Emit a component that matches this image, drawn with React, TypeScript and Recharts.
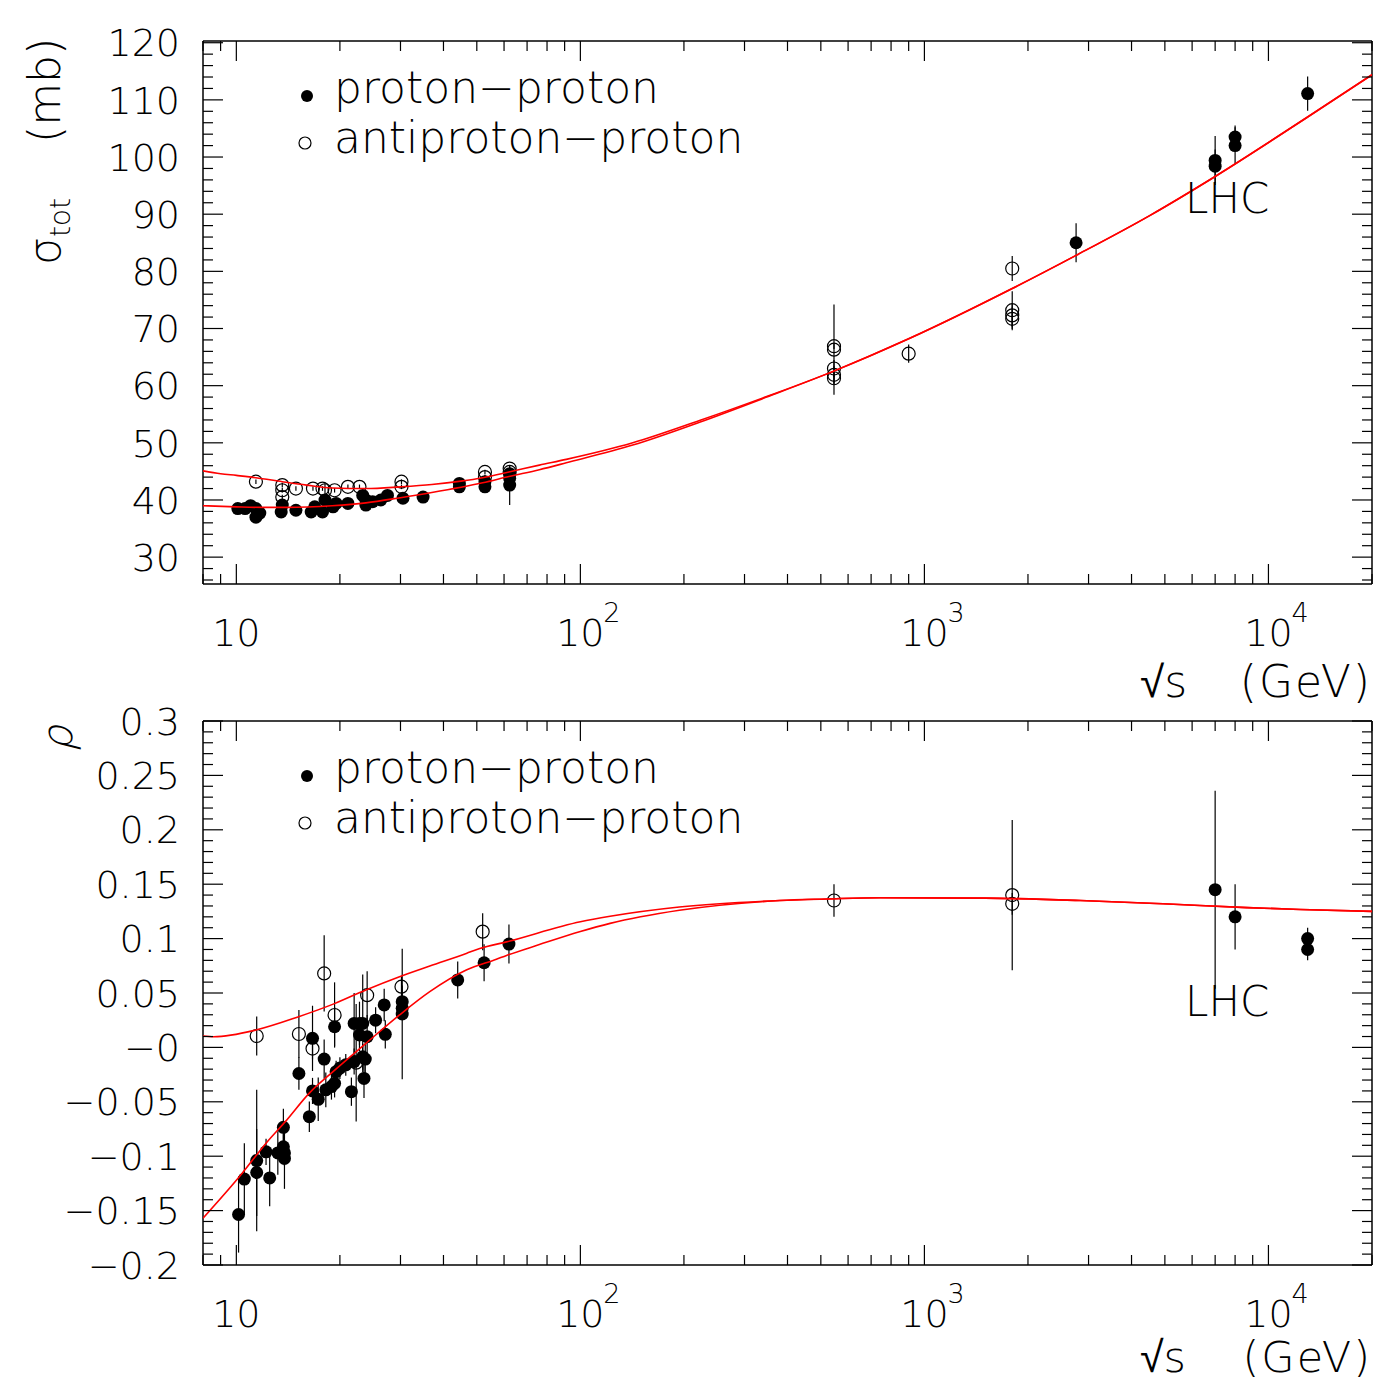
import React from 'react';
import { ScatterChart, Scatter, XAxis, YAxis, ErrorBar } from 'recharts';

const FONT = '"DejaVu Sans", sans-serif';
const WEIGHT = 200;
const W = 1373;

// sqrt(s) in GeV, sigma_tot in mb, e = error
const ppSigma = [
  { x: 10.1, y: 38.5, e: 0.4 }, { x: 10.6, y: 38.5, e: 0.4 }, { x: 11.0, y: 39.0, e: 0.4 },
  { x: 11.4, y: 38.5, e: 0.4 }, { x: 11.4, y: 37.0, e: 0.5 }, { x: 11.7, y: 37.7, e: 0.4 },
  { x: 13.5, y: 37.9, e: 0.4 }, { x: 13.6, y: 39.1, e: 0.4 }, { x: 14.9, y: 38.2, e: 0.4 },
  { x: 16.5, y: 37.9, e: 0.4 }, { x: 16.9, y: 38.8, e: 0.4 }, { x: 17.8, y: 37.9, e: 0.4 },
  { x: 18.1, y: 40.0, e: 0.4 }, { x: 19.1, y: 38.8, e: 0.4 }, { x: 19.5, y: 39.4, e: 0.4 },
  { x: 21.1, y: 39.4, e: 0.4 }, { x: 23.3, y: 40.8, e: 0.4 }, { x: 23.8, y: 39.1, e: 0.4 },
  { x: 23.8, y: 40.0, e: 0.4 }, { x: 24.9, y: 39.7, e: 0.4 }, { x: 26.3, y: 40.0, e: 0.4 },
  { x: 27.5, y: 40.8, e: 0.4 }, { x: 30.5, y: 40.3, e: 0.4 }, { x: 34.9, y: 40.5, e: 0.4 },
  { x: 44.5, y: 42.3, e: 0.4 }, { x: 44.5, y: 42.9, e: 0.4 }, { x: 52.8, y: 43.2, e: 0.4 },
  { x: 52.8, y: 42.3, e: 0.4 }, { x: 62.3, y: 44.6, e: 0.4 }, { x: 62.3, y: 43.8, e: 0.4 },
  { x: 62.3, y: 42.6, e: 3.5 }, { x: 2760, y: 85.0, e: 3.4 }, { x: 7000, y: 98.4, e: 2.9 },
  { x: 7000, y: 99.4, e: 4.3 }, { x: 8000, y: 102.0, e: 3.2 }, { x: 8000, y: 103.5, e: 2.0 },
  { x: 13000, y: 111.1, e: 3.0 },
];

const pbarpSigma = [
  { x: 11.4, y: 43.2, e: 0.4 }, { x: 13.6, y: 42.6, e: 0.4 }, { x: 13.6, y: 41.7, e: 0.4 },
  { x: 13.6, y: 40.5, e: 0.4 }, { x: 14.9, y: 42.0, e: 0.4 }, { x: 16.7, y: 42.0, e: 0.4 },
  { x: 17.8, y: 42.0, e: 0.4 }, { x: 18.1, y: 41.7, e: 1.2 }, { x: 19.3, y: 41.7, e: 0.4 },
  { x: 21.1, y: 42.3, e: 0.4 }, { x: 22.8, y: 42.3, e: 0.4 }, { x: 30.2, y: 43.2, e: 0.4 },
  { x: 30.2, y: 42.3, e: 0.4 }, { x: 52.8, y: 44.9, e: 0.4 }, { x: 52.8, y: 44.0, e: 0.4 },
  { x: 62.3, y: 45.5, e: 0.4 }, { x: 62.3, y: 44.9, e: 0.4 }, { x: 546, y: 66.9, e: 0.5 },
  { x: 546, y: 66.3, e: 7.9 }, { x: 546, y: 63.0, e: 1.5 }, { x: 546, y: 61.9, e: 1.5 },
  { x: 546, y: 61.3, e: 1.0 }, { x: 900, y: 65.6, e: 1.6 }, { x: 1800, y: 80.5, e: 2.2 },
  { x: 1800, y: 73.2, e: 3.3 }, { x: 1800, y: 72.3, e: 2.0 }, { x: 1800, y: 71.7, e: 2.0 },
];

const ppSigmaFit = [
  { x: 8, y: 39.0 }, { x: 10, y: 38.8 }, { x: 12, y: 38.7 }, { x: 14, y: 38.7 }, { x: 19, y: 39.0 },
  { x: 23.8, y: 39.5 }, { x: 30, y: 40.4 }, { x: 37, y: 41.3 }, { x: 52, y: 43.0 }, { x: 62, y: 44.1 },
  { x: 76, y: 45.3 }, { x: 91, y: 46.5 }, { x: 142, y: 49.6 }, { x: 222, y: 53.6 }, { x: 348, y: 58.0 },
  { x: 543, y: 62.5 }, { x: 900, y: 68.2 }, { x: 1800, y: 77.0 }, { x: 2760, y: 82.8 }, { x: 4530, y: 89.8 },
  { x: 7000, y: 96.6 }, { x: 13000, y: 107.0 }, { x: 20000, y: 114.4 },
];

const pbarpSigmaFit = [
  { x: 8, y: 45.1 }, { x: 9, y: 44.6 }, { x: 10, y: 44.3 }, { x: 11.4, y: 43.9 }, { x: 13.6, y: 43.2 },
  { x: 16, y: 42.6 }, { x: 19, y: 42.1 }, { x: 23.8, y: 42.0 }, { x: 30, y: 42.3 }, { x: 37, y: 42.7 },
  { x: 45, y: 43.3 }, { x: 52, y: 43.9 }, { x: 62, y: 44.9 }, { x: 76, y: 46.1 }, { x: 91, y: 47.1 },
  { x: 142, y: 50.0 }, { x: 222, y: 53.9 }, { x: 348, y: 58.1 }, { x: 543, y: 62.5 }, { x: 900, y: 68.2 },
  { x: 1800, y: 77.0 }, { x: 2760, y: 82.8 }, { x: 4530, y: 89.8 }, { x: 7000, y: 96.6 },
  { x: 13000, y: 107.0 }, { x: 20000, y: 114.4 },
];

// rho = Re/Im of forward amplitude
const ppRho = [
  { x: 10.15, y: -0.1536, e: 0.035 }, { x: 10.55, y: -0.121, e: 0.033 }, { x: 11.46, y: -0.104, e: 0.065 },
  { x: 11.46, y: -0.115, e: 0.04 }, { x: 12.2, y: -0.096, e: 0.012 }, { x: 12.5, y: -0.12, e: 0.026 },
  { x: 13.2, y: -0.097, e: 0.02 }, { x: 13.7, y: -0.0735, e: 0.017 }, { x: 13.7, y: -0.0914, e: 0.015 },
  { x: 13.8, y: -0.097, e: 0.012 }, { x: 13.8, y: -0.102, e: 0.028 }, { x: 15.2, y: -0.024, e: 0.015 },
  { x: 16.3, y: -0.0637, e: 0.014 }, { x: 16.65, y: 0.0083, e: 0.03 }, { x: 16.65, y: -0.04, e: 0.012 },
  { x: 17.3, y: -0.0477, e: 0.02 }, { x: 18.0, y: -0.0107, e: 0.018 }, { x: 18.2, y: -0.039, e: 0.016 },
  { x: 18.9, y: -0.036, e: 0.012 }, { x: 19.3, y: 0.019, e: 0.018 }, { x: 19.3, y: -0.033, e: 0.013 },
  { x: 19.5, y: -0.0223, e: 0.01 }, { x: 20.0, y: -0.019, e: 0.01 }, { x: 20.8, y: -0.016, e: 0.01 },
  { x: 21.6, y: -0.0407, e: 0.013 }, { x: 22.0, y: 0.022, e: 0.028 }, { x: 22.0, y: -0.013, e: 0.012 },
  { x: 22.8, y: 0.022, e: 0.02 }, { x: 23.3, y: 0.022, e: 0.045 }, { x: 22.8, y: 0.0114, e: 0.015 },
  { x: 23.3, y: -0.0086, e: 0.012 }, { x: 23.5, y: -0.0285, e: 0.018 }, { x: 23.7, y: -0.0107, e: 0.015 },
  { x: 24.0, y: 0.0098, e: 0.02 }, { x: 25.4, y: 0.025, e: 0.012 }, { x: 26.9, y: 0.039, e: 0.015 },
  { x: 27.1, y: 0.012, e: 0.013 }, { x: 30.35, y: 0.042, e: 0.015 }, { x: 30.35, y: 0.036, e: 0.01 },
  { x: 30.35, y: 0.0307, e: 0.06 }, { x: 44.0, y: 0.062, e: 0.017 }, { x: 52.5, y: 0.0778, e: 0.017 },
  { x: 62, y: 0.095, e: 0.018 }, { x: 7000, y: 0.145, e: 0.091 }, { x: 8000, y: 0.12, e: 0.03 },
  { x: 13000, y: 0.1, e: 0.01 }, { x: 13000, y: 0.09, e: 0.01 },
];

const pbarpRho = [
  { x: 11.46, y: 0.0105, e: 0.018 }, { x: 15.2, y: 0.0123, e: 0.022 }, { x: 16.65, y: -0.0011, e: 0.01 },
  { x: 18.0, y: 0.068, e: 0.035 }, { x: 19.3, y: 0.0298, e: 0.03 }, { x: 22.3, y: -0.014, e: 0.054 },
  { x: 24.0, y: 0.048, e: 0.022 }, { x: 30.2, y: 0.0558, e: 0.01 }, { x: 52, y: 0.1064, e: 0.017 },
  { x: 546, y: 0.135, e: 0.015 }, { x: 1800, y: 0.14, e: 0.069 }, { x: 1800, y: 0.132, e: 0.01 },
];

const ppRhoFit = [
  { x: 8, y: -0.157 }, { x: 10.4, y: -0.1157 }, { x: 12.2, y: -0.088 }, { x: 13.9, y: -0.068 },
  { x: 16.3, y: -0.042 }, { x: 19.1, y: -0.0223 }, { x: 23.8, y: 0.0037 }, { x: 29.8, y: 0.0298 },
  { x: 36.5, y: 0.0512 }, { x: 46.6, y: 0.0711 }, { x: 57, y: 0.081 }, { x: 61, y: 0.0845 },
  { x: 76, y: 0.0945 }, { x: 100, y: 0.1065 }, { x: 122, y: 0.114 }, { x: 194, y: 0.126 },
  { x: 380, y: 0.135 }, { x: 520, y: 0.1364 }, { x: 743, y: 0.1376 }, { x: 1500, y: 0.1372 },
  { x: 2840, y: 0.135 }, { x: 4940, y: 0.132 }, { x: 8670, y: 0.1285 }, { x: 12380, y: 0.1268 },
  { x: 20000, y: 0.125 },
];

const pbarpRhoFit = [
  { x: 8, y: 0.0105 }, { x: 8.6, y: 0.0098 }, { x: 11.4, y: 0.016 }, { x: 15.1, y: 0.028 },
  { x: 19.2, y: 0.04 }, { x: 23.8, y: 0.0528 }, { x: 29.8, y: 0.065 }, { x: 36.5, y: 0.0748 },
  { x: 46.6, y: 0.0864 }, { x: 51, y: 0.0909 }, { x: 61, y: 0.097 }, { x: 100, y: 0.1155 },
  { x: 122, y: 0.1205 }, { x: 194, y: 0.129 }, { x: 380, y: 0.135 }, { x: 520, y: 0.1364 },
  { x: 743, y: 0.1376 }, { x: 1500, y: 0.1372 }, { x: 2840, y: 0.135 }, { x: 4940, y: 0.132 },
  { x: 8670, y: 0.1285 }, { x: 12380, y: 0.1268 }, { x: 20000, y: 0.125 },
];

const xDomain = [8, 20000];
const sigmaDomain = [25.3, 120.3];
const rhoDomain = [-0.2, 0.3];
const sigmaMajor = [30, 40, 50, 60, 70, 80, 90, 100, 110, 120];
const rhoMajor = [-20, -15, -10, -5, 0, 5, 10, 15, 20, 25, 30]; // in 0.01 units
const rhoLabels = ['\u22120.2', '\u22120.15', '\u22120.1', '\u22120.05', '\u22120', '0.05', '0.1', '0.15', '0.2', '0.25', '0.3'];

const xTicks: number[] = [];
[1, 10, 100, 1000, 10000].forEach((d) => {
  for (let m = 1; m < 10; m++) {
    const v = m * d;
    if (v >= xDomain[0] && v <= xDomain[1]) xTicks.push(v);
  }
});
const sigmaTicks: number[] = [];
for (let v = 26; v <= 120; v += 2) sigmaTicks.push(v);
const rhoTicks: number[] = [];
for (let k = -20; k <= 30; k++) rhoTicks.push(k / 100);

const isDecade = (v: number) => Math.abs(Math.log10(v) - Math.round(Math.log10(v))) < 1e-6;

const XTickBottom = (props: any) => {
  const { x, y, payload } = props;
  const v = payload.value;
  const major = isDecade(v);
  const exp = Math.round(Math.log10(v));
  return (
    <g>
      <line x1={x} x2={x} y1={y} y2={y - (major ? 20 : 10)} stroke="#000" strokeWidth={1.2} />
      {major && (
        <text x={x} y={y + 62} textAnchor="middle" fontFamily={FONT} fontWeight={WEIGHT} fontSize={38} fill="#000">10</text>
      )}
      {major && exp > 1 && (
        <text x={x + 23} y={y + 38} fontFamily={FONT} fontWeight={WEIGHT} fontSize={27} fill="#000">{exp}</text>
      )}
    </g>
  );
};

const XTickTop = (props: any) => {
  const { x, y, payload } = props;
  const major = isDecade(payload.value);
  return <line x1={x} x2={x} y1={y} y2={y + (major ? 20 : 10)} stroke="#000" strokeWidth={1.2} />;
};

const SigmaTickLeft = (props: any) => {
  const { x, y, payload } = props;
  const v = payload.value;
  const major = sigmaMajor.includes(v);
  return (
    <g>
      <line x1={x} x2={x + (major ? 20 : 10)} y1={y} y2={y} stroke="#000" strokeWidth={1.2} />
      {major && (
        <text x={x - 23} y={y} dy="0.36em" textAnchor="end" fontFamily={FONT} fontWeight={WEIGHT} fontSize={38} fill="#000">{v}</text>
      )}
    </g>
  );
};

const RhoTickLeft = (props: any) => {
  const { x, y, payload } = props;
  const k = Math.round(payload.value * 100);
  const idx = rhoMajor.indexOf(k);
  const major = idx >= 0;
  return (
    <g>
      <line x1={x} x2={x + (major ? 20 : 10)} y1={y} y2={y} stroke="#000" strokeWidth={1.2} />
      {major && (
        <text x={x - 23} y={y} dy="0.36em" textAnchor="end" fontFamily={FONT} fontWeight={WEIGHT} fontSize={38} fill="#000">{rhoLabels[idx]}</text>
      )}
    </g>
  );
};

const makeRightTick = (isMajor: (v: number) => boolean) => (props: any) => {
  const { x, y, payload } = props;
  return <line x1={x} x2={x - (isMajor(payload.value) ? 20 : 10)} y1={y} y2={y} stroke="#000" strokeWidth={1.2} />;
};
const SigmaTickRight = makeRightTick((v) => sigmaMajor.includes(v));
const RhoTickRight = makeRightTick((v) => rhoMajor.includes(Math.round(v * 100)));

const Filled = (p: any) => <circle cx={p.cx} cy={p.cy} r={6.5} fill="#000" />;
const Open = (p: any) => <circle cx={p.cx} cy={p.cy} r={6.5} fill="none" stroke="#000" strokeWidth={1.2} />;
const NoDot = () => <g />;

const axisLine = { stroke: '#000', strokeWidth: 1.5 };

interface PanelProps {
  height: number;
  bottomMargin: number;
  domain: number[];
  yTicks: number[];
  LeftTick: any;
  RightTick: any;
  pp: any[];
  pbarp: any[];
  ppFit: any[];
  pbarpFit: any[];
}

// axes are 1px thick so Recharts still draws them; margins absorb that pixel
const Panel: React.FC<PanelProps> = ({ height, bottomMargin, domain, yTicks, LeftTick, RightTick, pp, pbarp, ppFit, pbarpFit }) => (
  <ScatterChart width={W} height={height} margin={{ top: 40, right: 0, bottom: bottomMargin - 1, left: 202 }}>
    <XAxis dataKey="x" type="number" scale="log" domain={xDomain} allowDataOverflow ticks={xTicks}
      height={1} tickSize={0} tickMargin={0} tickLine={false} axisLine={axisLine} tick={XTickBottom} interval={0} />
    <XAxis xAxisId="top" orientation="top" dataKey="x" type="number" scale="log" domain={xDomain} allowDataOverflow
      ticks={xTicks} height={1} tickSize={0} tickMargin={0} tickLine={false} axisLine={axisLine} tick={XTickTop} interval={0} />
    <YAxis dataKey="y" type="number" domain={domain} allowDataOverflow ticks={yTicks} width={1}
      tickSize={0} tickMargin={0} tickLine={false} axisLine={axisLine} tick={LeftTick} interval={0} />
    <YAxis yAxisId="right" orientation="right" dataKey="y" type="number" domain={domain} allowDataOverflow ticks={yTicks}
      width={1} tickSize={0} tickMargin={0} tickLine={false} axisLine={axisLine} tick={RightTick} interval={0} />
    <Scatter data={pp} shape={Filled} isAnimationActive={false}>
      <ErrorBar dataKey="e" direction="y" width={0} stroke="#000" strokeWidth={1.2} />
    </Scatter>
    <Scatter data={pbarp} shape={Open} isAnimationActive={false}>
      <ErrorBar dataKey="e" direction="y" width={0} stroke="#000" strokeWidth={1.2} />
    </Scatter>
    <Scatter data={ppFit} shape={NoDot} line={{ stroke: '#ff0000', strokeWidth: 1.6 }} lineJointType="monotoneX" isAnimationActive={false} />
    <Scatter data={pbarpFit} shape={NoDot} line={{ stroke: '#ff0000', strokeWidth: 1.6 }} lineJointType="monotoneX" isAnimationActive={false} />
  </ScatterChart>
);

const Legend = ({ top }: { top: number }) => (
  <g fontFamily={FONT} fontWeight={WEIGHT} fontSize={44} fill="#000">
    <circle cx={307} cy={top + 55} r={6} fill="#000" />
    <text x={334} y={top + 62}>proton{'\u2212'}proton</text>
    <circle cx={305} cy={top + 102} r={6} fill="none" stroke="#000" strokeWidth={1.2} />
    <text x={334} y={top + 112}>antiproton{'\u2212'}proton</text>
  </g>
);

const SqrtS = ({ y, size }: { y: number; size: number }) => (
  <g fontFamily={FONT} fontWeight={WEIGHT} fontSize={size} fill="#000">
    <text x={1140} y={y}>{'\u221A'}s</text>
    <text x={1372} y={y} textAnchor="end" letterSpacing={2}>(GeV)</text>
  </g>
);

export default function App() {
  return (
    <div style={{ position: 'absolute', left: 0, top: 0, width: W, height: 1382, background: '#fff', overflow: 'hidden' }}>
      <div style={{ position: 'absolute', left: 0, top: 0 }}>
        <Panel height={680} bottomMargin={96} domain={sigmaDomain} yTicks={sigmaTicks}
          LeftTick={SigmaTickLeft} RightTick={SigmaTickRight}
          pp={ppSigma} pbarp={pbarpSigma} ppFit={ppSigmaFit} pbarpFit={pbarpSigmaFit} />
      </div>
      <div style={{ position: 'absolute', left: 0, top: 680 }}>
        <Panel height={702} bottomMargin={117} domain={rhoDomain} yTicks={rhoTicks}
          LeftTick={RhoTickLeft} RightTick={RhoTickRight}
          pp={ppRho} pbarp={pbarpRho} ppFit={ppRhoFit} pbarpFit={pbarpRhoFit} />
      </div>
      <svg width={W} height={1382} style={{ position: 'absolute', left: 0, top: 0, pointerEvents: 'none' }}>
        <Legend top={41} />
        <Legend top={721} />
        <text transform="translate(60,265) rotate(-90)" fontFamily={FONT} fontWeight={WEIGHT} fontSize={44} fill="#000">
          {'\u03C3'}<tspan fontSize={28} dy={10}>tot</tspan><tspan dy={-10} dx={55}>(mb)</tspan>
        </text>
        <text transform="translate(72,752) rotate(-90) skewX(-14)" fontFamily={FONT} fontWeight={WEIGHT} fontSize={42} fill="#000">{'\u03C1'}</text>
        <SqrtS y={697} size={44} />
        <SqrtS y={1372} size={43} />
        <text x={1185} y={213} fontFamily={FONT} fontWeight={WEIGHT} fontSize={42} fill="#000">LHC</text>
        <text x={1185} y={1016} fontFamily={FONT} fontWeight={WEIGHT} fontSize={42} fill="#000">LHC</text>
      </svg>
    </div>
  );
}
